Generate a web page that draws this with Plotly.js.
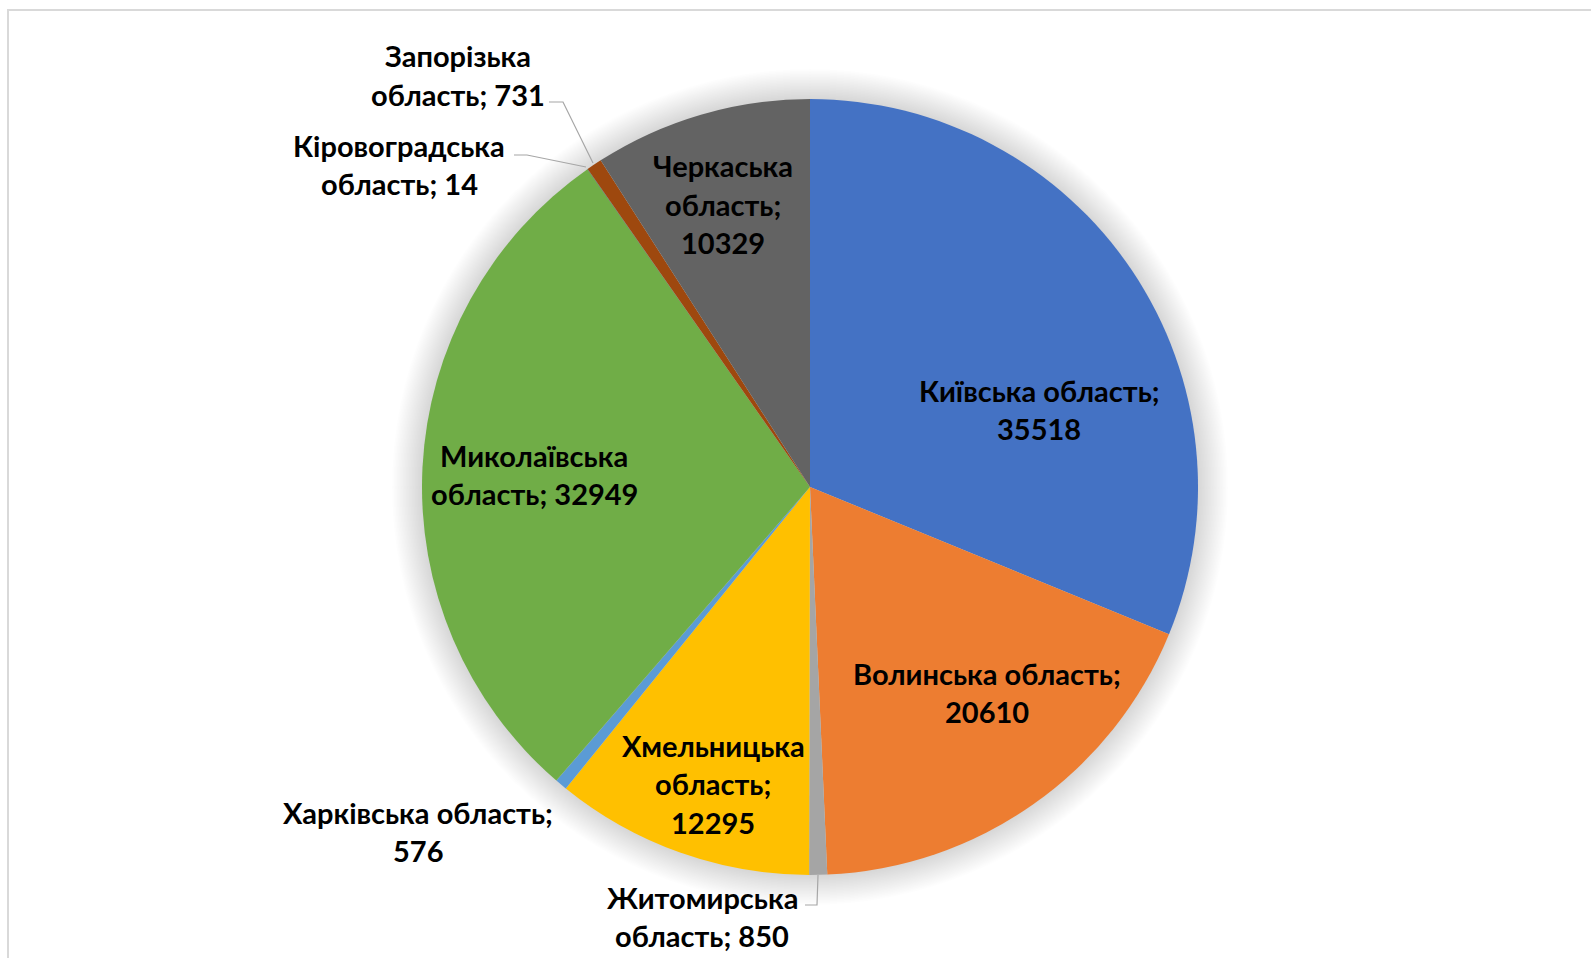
<!DOCTYPE html>
<html>
<head>
<meta charset="utf-8">
<script src="https://cdn.plot.ly/plotly-3.0.1.min.js"></script>
<style>html,body{margin:0;padding:0;background:#fff;}#chart{width:1591px;height:958px;}</style>
</head>
<body>
<div id="chart"></div>
<script>
// ---- data ----
const regions = ["Київська", "Волинська", "Житомирська", "Хмельницька", "Харківська",
                 "Миколаївська", "Кіровоградська", "Запорізька", "Черкаська"];
const suffix = "область";
const values = [35518, 20610, 850, 12295, 576, 32949, 14, 731, 10329];
const colors = ["#4472C4", "#ED7D31", "#A5A5A5", "#FFC000", "#5B9BD5",
                "#70AD47", "#264478", "#9E480E", "#636363"];

// ---- layout helpers ----
const W = 1591, H = 958;
const cx = 810, cy = 487, R = 388;
const px = x => x / W;
const py = y => 1 - y / H;

// label placement (pixel centres of first line) and line breaks
// tokens: 0 = region, 1 = "область;", 2 = value
const labelLayout = [
  {x: 1039, y: 390, br: [[0,1],[2]]},
  {x: 987,  y: 673, br: [[0,1],[2]]},
  {x: 702,  y: 897, br: [[0],[1,2]]},
  {x: 713,  y: 745, br: [[0],[1],[2]]},
  {x: 418,  y: 812, br: [[0,1],[2]]},
  {x: 534,  y: 455, br: [[0],[1,2]]},
  {x: 399,  y: 145, br: [[0],[1,2]]},
  {x: 458,  y: 56,  br: [[0],[1,2]]},
  {x: 723,  y: 166, br: [[0],[1],[2]]}
];
const lineStep = 38.5;
const font = {family: "Lato, 'Noto Sans', sans-serif", size: 29, color: "#000000"};

const annotations = [];
regions.forEach((r, i) => {
  const tokens = [r, suffix + ";", String(values[i])];
  const L = labelLayout[i];
  L.br.forEach((line, k) => {
    annotations.push({
      xref: "paper", yref: "paper",
      x: px(L.x), y: py(L.y + k * lineStep),
      xanchor: "center", yanchor: "middle",
      text: "<b>" + line.map(t => tokens[t]).join(" ") + "</b>",
      showarrow: false, font: font
    });
  });
});

const shapes = [];
// soft shadow
for (let k = 20; k >= 1; k--) {
  const rr = R + k * 1.5;
  shapes.push({
    type: "circle", xref: "paper", yref: "paper", layer: "below",
    x0: px(cx - rr), x1: px(cx + rr), y0: py(cy + rr), y1: py(cy - rr),
    fillcolor: "rgba(0,0,0,0.008)", line: {width: 0}
  });
}
// frame
shapes.push({
  type: "rect", xref: "paper", yref: "paper", layer: "below",
  x0: px(8), x1: px(1600), y0: py(1000), y1: py(10),
  line: {color: "#D9D9D9", width: 2}, fillcolor: "rgba(0,0,0,0)"
});
// leader lines
const leaderPaths = [
  [[549, 102], [563, 102], [593, 163]],
  [[514, 155], [527, 155], [586, 167]],
  [[805, 905], [817, 905], [818, 875]]
];
leaderPaths.forEach(p => {
  shapes.push({
    type: "path", xref: "paper", yref: "paper", layer: "above",
    path: p.map((q, j) => (j ? "L" : "M") + px(q[0]) + "," + py(q[1])).join(" "),
    line: {color: "#A6A6A6", width: 1.2}
  });
});

const trace = {
  type: "pie",
  labels: regions.map(r => r + " " + suffix),
  values: values,
  sort: false,
  direction: "clockwise",
  rotation: 0,
  marker: {colors: colors, line: {width: 0}},
  textinfo: "none",
  hoverinfo: "none",
  showlegend: false,
  domain: {x: [px(cx - R), px(cx + R)], y: [py(cy + R), py(cy - R)]}
};

Plotly.newPlot("chart", [trace], {
  width: W, height: H,
  margin: {l: 0, r: 0, t: 0, b: 0},
  paper_bgcolor: "#FFFFFF",
  showlegend: false,
  annotations: annotations,
  shapes: shapes
}, {staticPlot: true});
</script>
</body>
</html>
